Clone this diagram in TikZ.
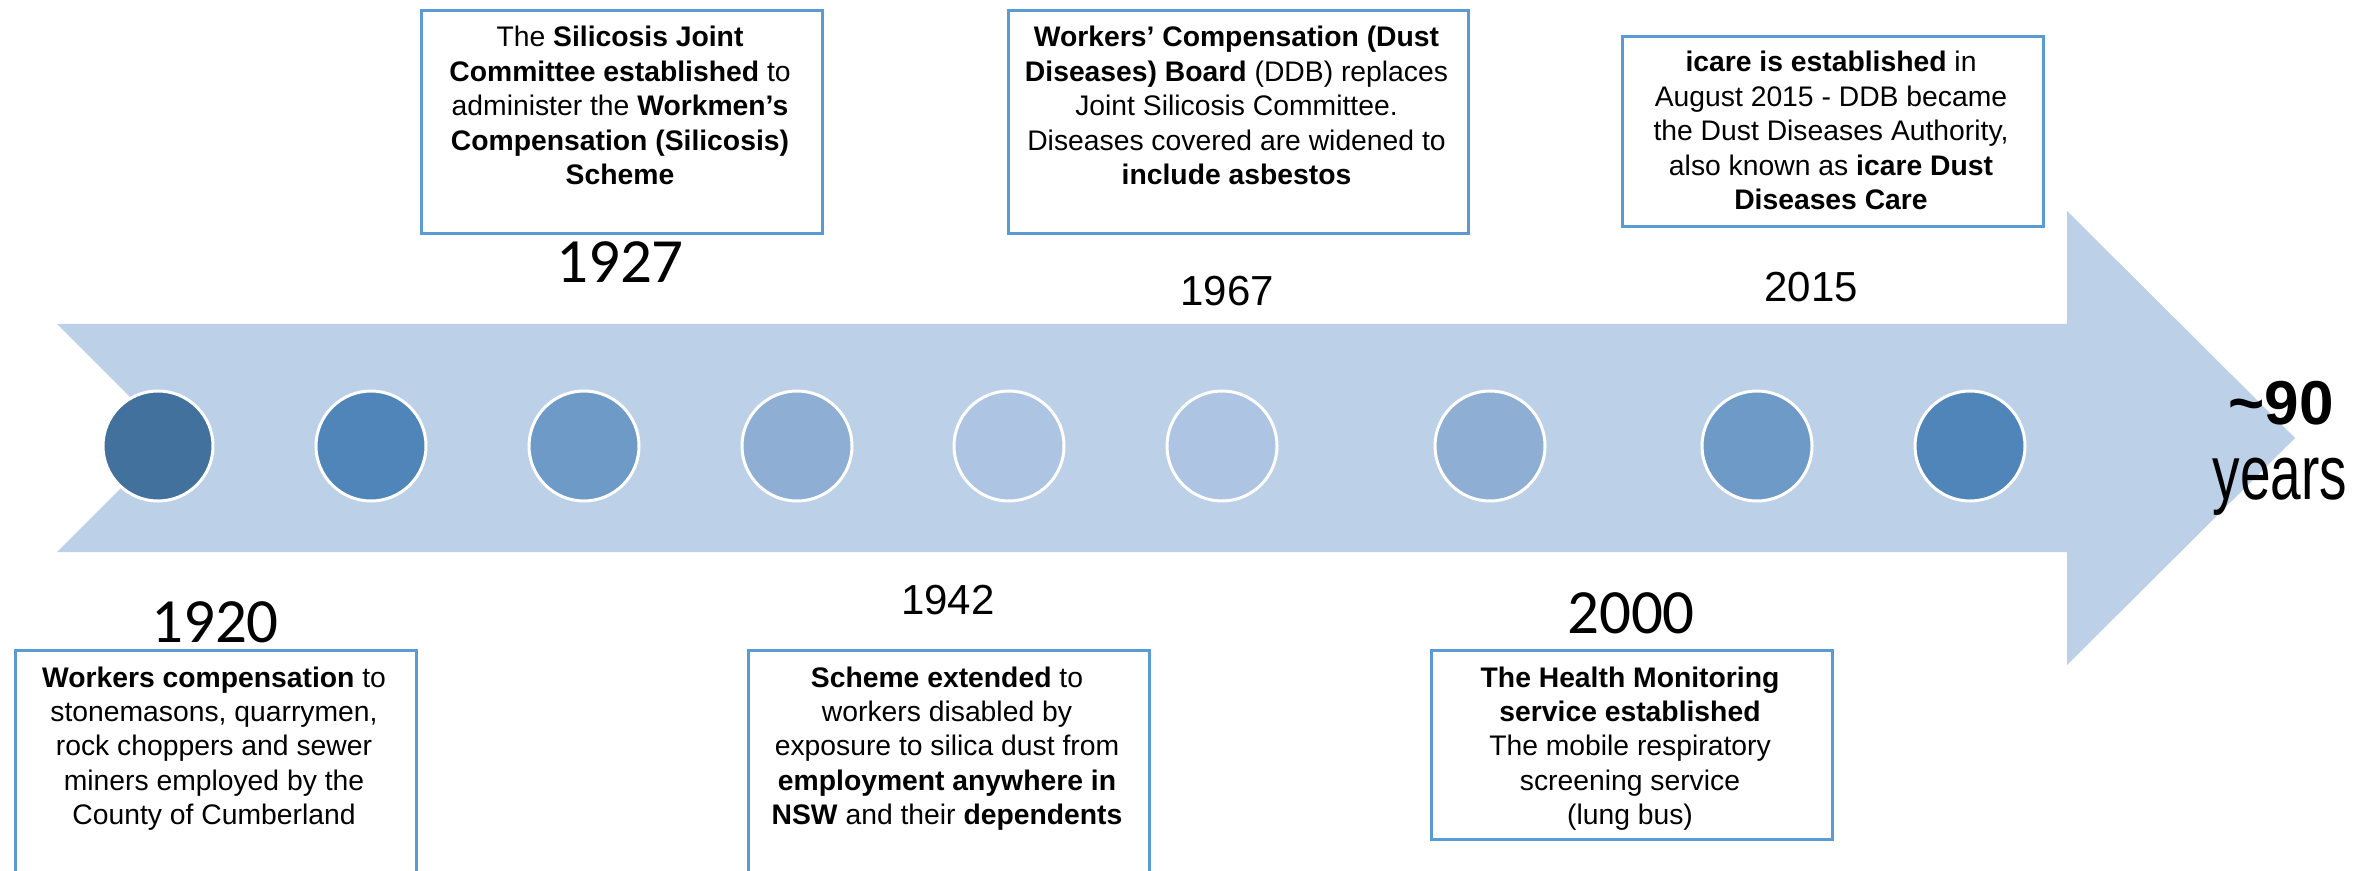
\documentclass[tikz,border=0pt]{standalone}
\usepackage{fontspec}
\usepackage{graphicx}
\setmainfont{Liberation Sans}
\newfontfamily\carlito{Carlito}
\definecolor{shaft}{HTML}{BCD0E8}
\definecolor{dotA}{HTML}{41719C}
\definecolor{dotB}{HTML}{5085B9}
\definecolor{dotC}{HTML}{6E9AC7}
\definecolor{dotD}{HTML}{8EAED4}
\definecolor{dotE}{HTML}{ADC4E2}
\definecolor{boxline}{HTML}{5B9BD5}
\begin{document}
\begin{tikzpicture}[x=0.5pt,y=-0.5pt,
  evbox/.style={draw=boxline, line width=1.5pt, anchor=north west, inner sep=0pt},
  evtext/.style={anchor=base, inner sep=0pt, font=\fontsize{14.15}{17.2}\selectfont},
  dot/.style={circle, draw=white, line width=1.5pt, minimum size=55pt, inner sep=0pt},
  yrC/.style={anchor=base, inner sep=0pt, font=\carlito\fontsize{31.5}{31.5}\selectfont},
  yrA/.style={anchor=base, inner sep=0pt, font=\fontsize{21}{21}\selectfont},
  bigtxt/.style={anchor=base, inner sep=0pt}]
\useasboundingbox (0,0) rectangle (2377,871);
\clip (0,0) rectangle (2377,871);
\fill[white] (0,0) rectangle (2377,871);

% arrow
\fill[shaft] (57,324) -- (2067,324) -- (2067,211) -- (2295,438) -- (2067,665)
  -- (2067,552) -- (57,552) -- (171,438) -- cycle;

% dots
\node[dot, fill=dotA] (d1) at (158,446) {};
\node[dot, fill=dotB] (d2) at (371,446) {};
\node[dot, fill=dotC] (d3) at (584,446) {};
\node[dot, fill=dotD] (d4) at (797,446) {};
\node[dot, fill=dotE] (d5) at (1009,446) {};
\node[dot, fill=dotE] (d6) at (1222,446) {};
\node[dot, fill=dotD] (d7) at (1490,446) {};
\node[dot, fill=dotC] (d8) at (1757,446) {};
\node[dot, fill=dotB] (d9) at (1970,446) {};

% boxes
\node[evbox, minimum width=200.5pt, minimum height=126pt] (b1920) at (13.5,648.5) {};
\node[evbox, minimum width=200.5pt, minimum height=111.5pt] (b1927) at (419.5,9.5) {};
\node[evbox, minimum width=200.5pt, minimum height=126pt] (b1942) at (746.5,648.5) {};
\node[evbox, minimum width=230pt, minimum height=111.5pt] (b1967) at (1006.5,9.5) {};
\node[evbox, minimum width=200.5pt, minimum height=94.5pt] (b2000) at (1429.5,648.5) {};
\node[evbox, minimum width=210.5pt, minimum height=95pt] (b2015) at (1620.5,35.5) {};

% box texts
\node[evtext] (t1920) at (214,687) {\parbox[t]{200pt}{\centering
  \textbf{Workers compensation} to\\
  stonemasons, quarrymen,\\
  rock choppers and sewer\\
  miners employed by the\\
  County of Cumberland}};
\node[evtext] (t1927) at (620,47) {\parbox[t]{200pt}{\centering
  The \textbf{Silicosis Joint}\\
  \textbf{Committee established} to\\
  administer the \textbf{Workmen’s}\\
  \textbf{Compensation (Silicosis)}\\
  \textbf{Scheme}}};
\node[evtext] (t1942) at (947,687) {\parbox[t]{200pt}{\centering
  \textbf{Scheme extended} to\\
  workers disabled by\\
  exposure to silica dust from\\
  \textbf{employment anywhere in}\\
  \textbf{NSW} and their \textbf{dependents}}};
\node[evtext] (t1967) at (1236.5,47) {\parbox[t]{228pt}{\centering
  \textbf{Workers’ Compensation (Dust}\\
  \textbf{Diseases) Board} (DDB) replaces\\
  Joint Silicosis Committee.\\
  Diseases covered are widened to\\
  \textbf{include asbestos}}};
\node[evtext] (t2000) at (1630,687) {\parbox[t]{200pt}{\centering
  \textbf{The Health Monitoring}\\
  \textbf{service established}\\
  The mobile respiratory\\
  screening service\\
  (lung bus)}};
\node[evtext] (t2015) at (1831,72) {\parbox[t]{210pt}{\centering
  \textbf{icare is established} in\\
  August 2015 - DDB became\\
  the Dust Diseases Authority,\\
  also known as \textbf{icare Dust}\\
  \textbf{Diseases Care}}};

% years
\node[yrC] (y1920) at (215,642) {1920};
\node[yrC] (y1927) at (620,283) {1927};
\node[yrA] (y1942) at (948,614) {1942};
\node[yrA] (y1967) at (1227,306) {1967};
\node[yrC] (y2000) at (1631,633) {2000};
\node[yrA] (y2015) at (1811,302) {2015};

% ~90 years
\node[bigtxt, font=\bfseries\fontsize{31}{31}\selectfont] (ninety) at (2281,425) {\textasciitilde 90};
\node[bigtxt, font=\fontsize{27.5}{27.5}\selectfont] (years) at (2280,500) {\scalebox{1}[1.4]{years}};
\end{tikzpicture}
\end{document}
